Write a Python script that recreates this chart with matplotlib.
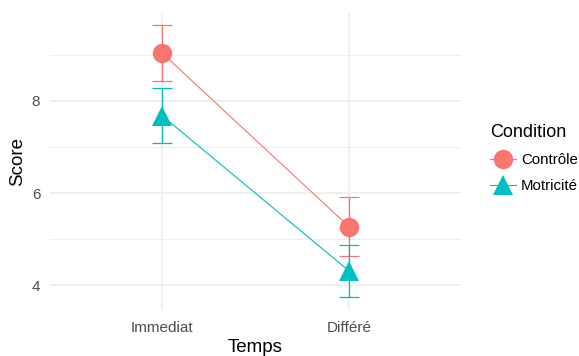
import matplotlib
matplotlib.use("Agg")
import matplotlib.pyplot as plt
from matplotlib.lines import Line2D
from matplotlib.ticker import MultipleLocator

plt.rcParams["font.family"] = ["Liberation Sans", "DejaVu Sans"]

# data
temps = ["Immediat", "Différé"]
conditions = ["Contrôle", "Motricité"]
controle_mean = [9.04, 5.27]
controle_err = [0.60, 0.64]
motricite_mean = [7.68, 4.31]
motricite_err = [0.60, 0.57]

colors = ["#F8766D", "#00BFC4"]
markers = ["o", "^"]
sizes = [14, 15]

W, H = 579, 356
fig = plt.figure(figsize=(W / 100, H / 100), dpi=100)
ax = fig.add_axes([50 / W, (H - 310) / H, 411 / W, 297 / H])

x = list(range(1, len(temps) + 1))
series = [(controle_mean, controle_err), (motricite_mean, motricite_err)]
for (means, errs), col, mk, ms in zip(series, colors, markers, sizes):
    ax.plot(x, means, color=col, lw=0.8, zorder=2)
    ax.errorbar(x, means, yerr=errs, fmt="none", ecolor=col, elinewidth=0.9,
                capsize=7.5, capthick=0.9, zorder=3)
    ax.plot(x, means, linestyle="none", marker=mk, color=col, markersize=ms,
            markeredgewidth=0, zorder=4)

ax.set_xlim(0.4, 2.6)
ax.set_ylim(3.46, 9.91)
ax.set_xticks(x)
ax.set_xticklabels(temps)
ax.yaxis.set_major_locator(MultipleLocator(2))
ax.yaxis.set_minor_locator(MultipleLocator(1))
ax.xaxis.set_minor_locator(MultipleLocator(10))

ax.grid(True, which="major", color="#EBEBEB", lw=1.1)
ax.grid(True, which="minor", axis="y", color="#EBEBEB", lw=0.6)
ax.set_axisbelow(True)
for s in ax.spines.values():
    s.set_visible(False)
ax.tick_params(which="both", length=0, labelsize=11, labelcolor="#4D4D4D")
ax.tick_params(axis="x", pad=8)
ax.tick_params(axis="y", pad=7)

ax.set_xlabel("Temps", fontsize=13.5, labelpad=3)
ax.set_ylabel("Score", fontsize=13.5, labelpad=4)

handles = [
    Line2D([0], [0], color=c, lw=0.8, marker=m, markersize=ms, markeredgewidth=0)
    for c, m, ms in zip(colors, markers, sizes)
]
leg = fig.legend(handles, conditions, title="Condition", loc="upper left",
                 bbox_to_anchor=(484 / W, 1 - 118 / H), frameon=False,
                 fontsize=10.8, title_fontsize=13, handlelength=1.7,
                 handletextpad=0.35, labelspacing=0.8, borderaxespad=0)
leg._legend_box.align = "left"

fig.savefig("out.png", dpi=100)
